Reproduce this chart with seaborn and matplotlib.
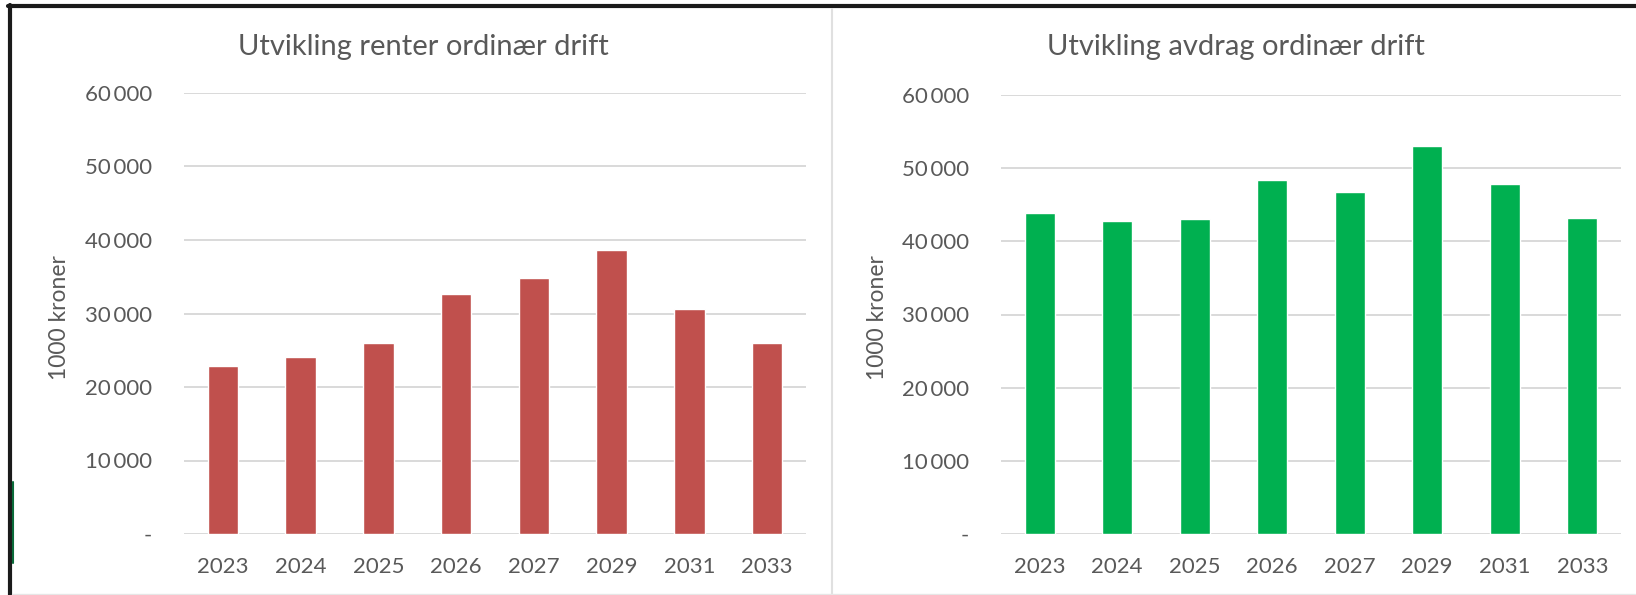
import matplotlib
matplotlib.use("Agg")
import matplotlib.pyplot as plt
from matplotlib.lines import Line2D
import seaborn as sns
import pandas as pd

# --- data ---
years = ["2023", "2024", "2025", "2026", "2027", "2029", "2031", "2033"]
renter = [22900, 24100, 26000, 32700, 34800, 38600, 30600, 26000]
avdrag = [43900, 42800, 43000, 48400, 46700, 53000, 47900, 43200]
y_ticks = [0, 10000, 20000, 30000, 40000, 50000, 60000]
y_tick_labels = ["-", "10\u2009000", "20\u2009000", "30\u2009000", "40\u2009000", "50\u2009000", "60\u2009000"]

titles = ["Utvikling renter ordinær drift", "Utvikling avdrag ordinær drift"]
y_label = "1000 kroner"

sns.set_theme(style="white")
plt.rcParams['font.family'] = ['Lato', 'DejaVu Sans']

TXT = "#595959"
GRID = "#D9D9D9"

W, H = 1636, 595
fig = plt.figure(figsize=(W / 100, H / 100), dpi=100)
fig.patch.set_facecolor("white")


def px_axes(x0, x1, y_top, y_bot):
    return fig.add_axes([x0 / W, 1 - y_bot / H, (x1 - x0) / W, (y_bot - y_top) / H])


def draw_panel(ax, values, color, title, title_x, ylabel_x):
    df = pd.DataFrame({"year": years, "value": values})
    sns.barplot(data=df, x="year", y="value", color=color, width=0.39,
                saturation=1, ax=ax, zorder=3)
    ax.set_xlim(-0.5, len(years) - 0.5)
    ax.set_ylim(0, 60000)
    ax.set_yticks(y_ticks)
    ax.set_yticklabels(y_tick_labels)
    ax.grid(axis="y", color=GRID, linewidth=1.4, zorder=0)
    ax.set_axisbelow(True)
    for s in ax.spines.values():
        s.set_visible(False)
    ax.tick_params(axis="both", length=0, colors=TXT, labelsize=16)
    ax.tick_params(axis="y", pad=23)
    ax.tick_params(axis="x", pad=16.5)
    ax.set_xlabel("")
    ax.set_ylabel("")
    fig.text(title_x / W, 1 - 47 / H, title, ha="center", va="center",
             fontsize=21, color=TXT)
    fig.text(ylabel_x / W, 1 - 318 / H, y_label, ha="center", va="center",
             rotation=90, fontsize=16.5, color=TXT)


ax1 = px_axes(184, 806, 93, 534)
ax2 = px_axes(1001, 1621, 95, 534)
draw_panel(ax1, renter, "#C0504D", titles[0], 423, 60)
draw_panel(ax2, avdrag, "#00B050", titles[1], 1236, 878)

# screenshot frame lines
fig.add_artist(Line2D([8 / W, 1], [1 - 6 / H, 1 - 6 / H], color="#1a1a1a", linewidth=3))
fig.add_artist(Line2D([10 / W, 10 / W], [0, 1 - 5 / H], color="#1a1a1a", linewidth=3))
fig.add_artist(Line2D([12.5 / W, 12.5 / W], [1 - 563 / H, 1 - 482 / H], color="#0a6b3a", linewidth=1.5))
fig.add_artist(Line2D([832 / W, 832 / W], [0, 1 - 9 / H], color="#E0E0E0", linewidth=1.5))
fig.add_artist(Line2D([12 / W, 1], [1 - 593.5 / H, 1 - 593.5 / H], color="#E6E6E6", linewidth=1))

fig.savefig("out.png", dpi=100)
